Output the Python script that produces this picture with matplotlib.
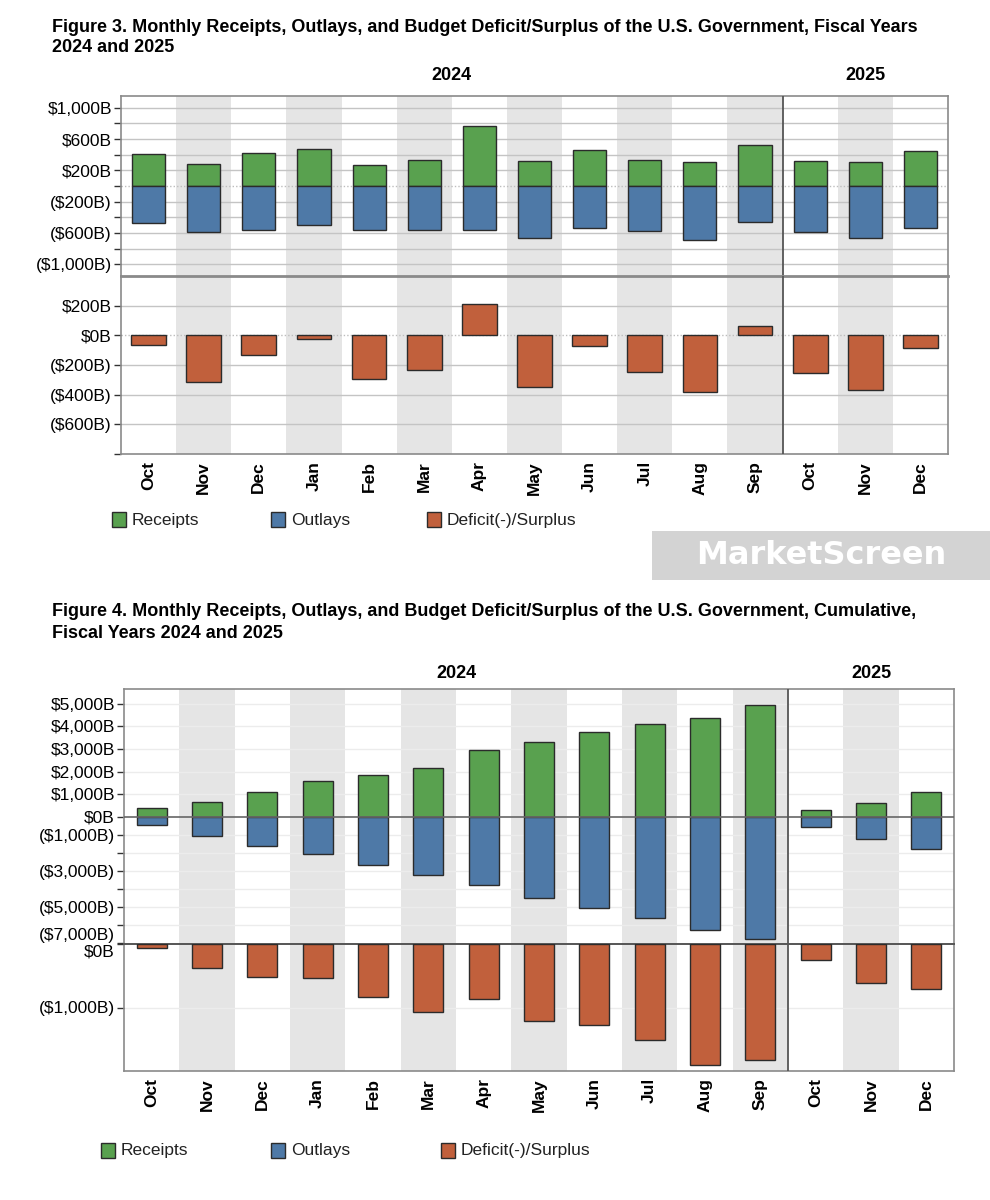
import matplotlib
matplotlib.use('Agg')
import matplotlib.pyplot as plt
import matplotlib.transforms as mtransforms
from matplotlib.patches import Rectangle
import numpy as np

plt.rcParams['font.family'] = ['Liberation Sans', 'DejaVu Sans']

# ---- data (billions of dollars) ----
months = ['Oct', 'Nov', 'Dec', 'Jan', 'Feb', 'Mar', 'Apr', 'May', 'Jun', 'Jul',
          'Aug', 'Sep', 'Oct', 'Nov', 'Dec']
year_labels = ['2024', '2025']
year_split = 12  # first 12 months are FY2024

# Figure 3: monthly
receipts = [405, 276, 425, 476, 273, 332, 770, 321, 466, 332, 306, 522, 322, 303, 452]
outlays = [-467, -586, -556, -496, -566, -566, -566, -670, -536, -570, -686, -460, -583, -668, -538]
deficit = [-65, -313, -130, -22, -296, -237, 210, -347, -71, -244, -380, 65, -257, -367, -86]

# Figure 4: cumulative
cum_receipts = [400, 650, 1105, 1565, 1860, 2175, 2970, 3290, 3770, 4085, 4390, 4930, 315, 610, 1095]
cum_outlays = [-455, -1065, -1622, -2090, -2665, -3225, -3795, -4482, -5040, -5610, -6260, -6754,
               -570, -1255, -1785]
cum_deficit = [-65, -375, -513, -534, -835, -1069, -859, -1208, -1280, -1518, -1906, -1834,
               -252, -622, -714]

GREEN = '#59a14f'
BLUE = '#4e79a7'
ORANGE = '#c1603c'
EDGE = '#2b2b2b'
SHADE = '#e5e5e5'

W, H = 990, 1200
fig = plt.figure(figsize=(W / 100, H / 100), dpi=100)


def box(l, t, r, b):
    return [l / W, 1 - b / H, (r - l) / W, (b - t) / H]


def fmt(v):
    if v < 0:
        return '(${:,}B)'.format(-v)
    return '${:,}B'.format(v)


x = np.arange(len(months))


def base_panel(ax, grid_vals, grid_color):
    ax.set_xlim(-0.5, len(months) - 0.5)
    for i in range(len(months)):
        if i % 2 == 1:
            ax.axvspan(i - 0.5, i + 0.5, color=SHADE, lw=0, zorder=0)
    for g in grid_vals:
        ax.axhline(g, color=grid_color, lw=1, zorder=1)
    ax.axvline(year_split - 0.5, color='#555555', lw=1.3, zorder=5)
    for s in ax.spines.values():
        s.set_color('#8a8a8a')
        s.set_linewidth(1.2)
    ax.tick_params(axis='y', length=5, width=1, color='#333333', labelsize=12.5, pad=1.5)
    ax.tick_params(axis='x', length=0)
    ax.set_xticks([])


def set_yticks(ax, ticks, labelled):
    ax.set_yticks(ticks)
    ax.set_yticklabels([fmt(t) if t in labelled else '' for t in ticks])


def month_labels(ax):
    ax.set_xticks(x)
    ax.set_xticklabels(months, rotation=90, fontweight='bold', fontsize=12.5)
    ax.tick_params(axis='x', length=0, pad=5)


def year_headers(ax, dy):
    tr = mtransforms.blended_transform_factory(ax.transData, ax.transAxes)
    ax.text((year_split - 1) / 2, 1 + dy, year_labels[0], transform=tr, ha='center',
            va='center', fontsize=13, fontweight='bold')
    ax.text((year_split + len(months) - 1) / 2, 1 + dy, year_labels[1], transform=tr,
            ha='center', va='center', fontsize=13, fontweight='bold')


def legend(y_top, xs):
    items = [('Receipts', GREEN), ('Outlays', BLUE), ('Deficit(-)/Surplus', ORANGE)]
    for (lab, col), x0 in zip(items, xs):
        fig.patches.append(Rectangle((x0 / W, 1 - (y_top + 15) / H), 14 / W, 15 / H,
                                     transform=fig.transFigure, fc=col, ec=EDGE, lw=1))
        fig.text((x0 + 20) / W, 1 - (y_top + 8) / H, lab, ha='left', va='center', fontsize=12.5,
                 color='#222222')


# ================= Figure 3 =================
fig.text(52 / W, 1 - 27 / H,
         'Figure 3. Monthly Receipts, Outlays, and Budget Deficit/Surplus of the U.S. Government, Fiscal Years',
         fontsize=13, fontweight='bold', va='center')
fig.text(52 / W, 1 - 47 / H, '2024 and 2025', fontsize=13, fontweight='bold', va='center')

ax1 = fig.add_axes(box(121, 96, 948, 276))
ticks1 = list(range(-1000, 1001, 200))
base_panel(ax1, [t for t in ticks1 if t != 0], '#c4c4c4')
ax1.axhline(0, color='#bdbdbd', lw=1, ls=(0, (1, 1.5)), zorder=1)
ax1.bar(x, receipts, width=0.6, color=GREEN, edgecolor=EDGE, lw=1, zorder=3)
ax1.bar(x, outlays, width=0.6, color=BLUE, edgecolor=EDGE, lw=1, zorder=3)
ax1.set_ylim(-1150, 1150)
set_yticks(ax1, ticks1, [-1000, -600, -200, 200, 600, 1000])
ax1.spines['bottom'].set_visible(False)
year_headers(ax1, 20 / 180)

ax2 = fig.add_axes(box(121, 276, 948, 454))
ticks2 = list(range(-800, 201, 200))
base_panel(ax2, [t for t in ticks2 if t not in (0, -800)], '#c4c4c4')
ax2.axhline(0, color='#bdbdbd', lw=1, ls=(0, (1, 1.5)), zorder=1)
ax2.bar(x, deficit, width=0.63, color=ORANGE, edgecolor=EDGE, lw=1, zorder=3)
ax2.set_ylim(-800, 400)
set_yticks(ax2, ticks2, [-600, -400, -200, 0, 200])
ax2.spines['top'].set_linewidth(2)
month_labels(ax2)

legend(512, [112, 271, 427])

# watermark box
fig.patches.append(Rectangle((652 / W, 1 - 580 / H), 338 / W, 49 / H,
                             transform=fig.transFigure, fc='#d3d3d3', ec='none'))
fig.text(821 / W, 1 - 556 / H, 'MarketScreen', ha='center', va='center', fontsize=23,
         fontweight='bold', color='white', family='DejaVu Sans')

# ================= Figure 4 =================
fig.text(52 / W, 1 - 612 / H,
         'Figure 4. Monthly Receipts, Outlays, and Budget Deficit/Surplus of the U.S. Government, Cumulative,',
         fontsize=13, fontweight='bold', va='center')
fig.text(52 / W, 1 - 634 / H, 'Fiscal Years 2024 and 2025', fontsize=13, fontweight='bold',
         va='center')


def fwd(y):
    y = np.asarray(y, dtype=float)
    return np.where(y >= 0, y, 0.8 * y)


def inv(y):
    y = np.asarray(y, dtype=float)
    return np.where(y >= 0, y, y / 0.8)


ax3 = fig.add_axes(box(124, 689, 954, 944))
ax3.set_yscale('function', functions=(fwd, inv))
ticks3 = list(range(-7000, 5001, 1000))
base_panel(ax3, [t for t in ticks3 if t not in (0, -7000)], '#ececec')
ax3.axhline(0, color='#666666', lw=1.2, zorder=4)
ax3.bar(x, cum_receipts, width=0.54, color=GREEN, edgecolor=EDGE, lw=1, zorder=3)
ax3.bar(x, cum_outlays, width=0.54, color=BLUE, edgecolor=EDGE, lw=1, zorder=3)
ax3.set_ylim(-7050, 5655)
set_yticks(ax3, ticks3, [-7000, -5000, -3000, -1000, 0, 1000, 2000, 3000, 4000, 5000])
ax3.get_yticklabels()[0].set_va('bottom')
ax3.spines['bottom'].set_visible(False)
year_headers(ax3, 16 / 255)

ax4 = fig.add_axes(box(124, 944, 954, 1071))
base_panel(ax4, [-1000], '#ececec')
ax4.bar(x, cum_deficit, width=0.54, color=ORANGE, edgecolor=EDGE, lw=1, zorder=3)
ax4.set_ylim(-2000, 0)
set_yticks(ax4, [0, -1000], [0, -1000])
ax4.get_yticklabels()[0].set_va('top')
ax4.spines['top'].set_color('#555555')
ax4.spines['top'].set_linewidth(1.4)
month_labels(ax4)

legend(1143, [101, 271, 441])

fig.savefig('out.png', dpi=100)
